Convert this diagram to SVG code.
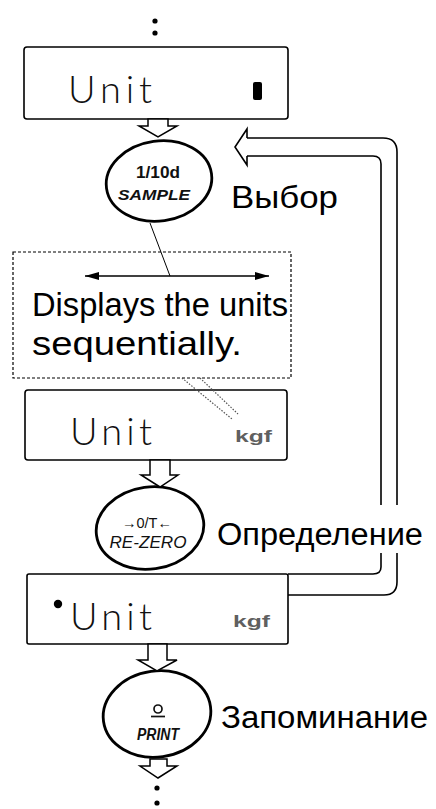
<svg xmlns="http://www.w3.org/2000/svg" width="436" height="809" viewBox="0 0 436 809">
<style>
.disp{fill:#fff;stroke:#000;stroke-width:1.6}
.lcd{font-family:Lato,"Liberation Sans",Arial,sans-serif;font-weight:300;font-size:38px;fill:#111}
.unit{font-family:"Liberation Sans",Arial,sans-serif;font-size:17px;font-weight:bold;fill:#606060}
.barrow{fill:#fff;stroke:#000;stroke-width:1.5;stroke-linejoin:miter}
.oval{fill:#fff;stroke:#000;stroke-width:2.8}
.key{font-family:"Liberation Sans",Arial,sans-serif;fill:#111;text-anchor:middle}
.lbl{font-family:"Liberation Sans",Arial,sans-serif;font-size:31px;fill:#000}
.note{font-family:"Liberation Sans",Arial,sans-serif;font-size:33px;fill:#000}
.loop{fill:none;stroke:#000;stroke-width:1.6}
.dotted{stroke:#555;stroke-width:1.2;stroke-dasharray:1.5 1.5}
</style>
<defs>
<marker id="ah" viewBox="0 0 14 8" refX="14" refY="4" markerWidth="14" markerHeight="8" markerUnits="userSpaceOnUse" orient="auto-start-reverse">
<path d="M0 0 L14 4 L0 8 Z" fill="#000"/>
</marker>
</defs>
<rect width="436" height="809" fill="#fff"/>

<g id="dots-top" fill="#000">
<circle cx="155" cy="21" r="2.6"/>
<circle cx="155" cy="33" r="2.6"/>
</g>

<g id="display1">
<rect class="disp" x="24" y="47" width="264" height="72" rx="3"/>
<text class="lcd" x="68" y="103" textLength="84" lengthAdjust="spacing">Unit</text>
<rect x="253" y="82" width="9" height="18" rx="2" fill="#000"/>
</g>

<g id="key-sample">
<ellipse class="oval" cx="159" cy="181" rx="53" ry="40" transform="rotate(-8 159 181)"/>
<text class="key" x="158" y="178" font-size="16" font-weight="bold" textLength="44" lengthAdjust="spacingAndGlyphs">1/10d</text>
<text class="key" x="154" y="200" font-size="15" font-weight="bold" font-style="italic" textLength="72" lengthAdjust="spacingAndGlyphs">SAMPLE</text>
</g>
<text id="label-select" class="lbl" x="231" y="208" textLength="107" lengthAdjust="spacingAndGlyphs">Выбор</text>

<g id="note">
<rect x="13" y="252" width="278" height="126" fill="none" stroke="#000" stroke-width="1.2" stroke-dasharray="3 2"/>
<text class="note" x="32" y="316" textLength="256" lengthAdjust="spacingAndGlyphs">Displays the units</text>
<text class="note" x="32" y="355" textLength="210" lengthAdjust="spacingAndGlyphs">sequentially.</text>
</g>

<g id="display2">
<rect class="disp" x="25" y="390" width="262" height="70" rx="3"/>
<text class="lcd" x="70" y="445" textLength="82" lengthAdjust="spacing">Unit</text>
<text class="unit" x="235" y="442" textLength="37" lengthAdjust="spacingAndGlyphs">kgf</text>
</g>

<g id="key-rezero">
<ellipse class="oval" cx="150" cy="528" rx="54" ry="41" transform="rotate(-8 150 528)"/>
<text class="key" x="147" y="528" font-family="'DejaVu Sans',sans-serif" font-size="15" textLength="50" lengthAdjust="spacingAndGlyphs">→0/T←</text>
<text class="key" x="148" y="548" font-size="16" font-style="italic" textLength="77" lengthAdjust="spacingAndGlyphs">RE-ZERO</text>
</g>
<text id="label-define" class="lbl" x="217" y="545" textLength="206" lengthAdjust="spacingAndGlyphs">Определение</text>

<g id="display3">
<rect class="disp" x="27" y="574" width="261" height="70" rx="2"/>
<circle cx="58" cy="604" r="4.2" fill="#000"/>
<text class="lcd" x="70" y="630" textLength="82" lengthAdjust="spacing">Unit</text>
<text class="unit" x="233" y="627" textLength="37" lengthAdjust="spacingAndGlyphs">kgf</text>
</g>

<g id="key-print">
<ellipse class="oval" cx="157" cy="714" rx="54" ry="43" transform="rotate(-8 157 714)"/>
<circle cx="158" cy="709" r="4" fill="none" stroke="#111" stroke-width="1.7"/>
<line x1="151" y1="716.5" x2="165" y2="716.5" stroke="#111" stroke-width="1.7"/>
<text class="key" x="158" y="740" font-size="16" font-weight="bold" font-style="italic" textLength="42" lengthAdjust="spacingAndGlyphs">PRINT</text>
</g>
<text id="label-store" class="lbl" x="221" y="728" textLength="207" lengthAdjust="spacingAndGlyphs">Запоминание</text>

<g id="dots-bottom" fill="#000">
<circle cx="157" cy="788" r="2.6"/>
<circle cx="157" cy="803" r="2.6"/>
</g>

<g id="connectors">
<polygon class="barrow" points="148,119 168,119 168,126 177,126 158,137 139,126 148,126"/>
<polygon class="barrow" points="150,460 170,460 170,475 178,475 160,487 141,475 150,475"/>
<polygon class="barrow" points="148,644 167,644 167,660 177,660 157,671 138,660 148,660"/>
<polygon class="barrow" points="150,759 167,759 167,766 177,766 158,778 140,766 150,766"/>
<line x1="150" y1="223" x2="170" y2="276" stroke="#000" stroke-width="1"/>
<line x1="85" y1="276" x2="269" y2="276" stroke="#000" stroke-width="1.5" marker-start="url(#ah)" marker-end="url(#ah)"/>
<line class="dotted" x1="182" y1="378" x2="232" y2="419"/>
<line class="dotted" x1="200" y1="378" x2="238" y2="414"/>
<path class="loop" d="M247 138 H383 Q397 138 397 152 V505 M397 553 V582 Q397 595 384 595 H288"/>
<path class="loop" d="M247 156 H373 Q381 156 381 164 V505 M381 553 V567 Q381 574 373 574 H288"/>
<path class="loop" fill="#fff" d="M247 138 V129 L235 147 L247 165 V156"/>
</g>
</svg>
